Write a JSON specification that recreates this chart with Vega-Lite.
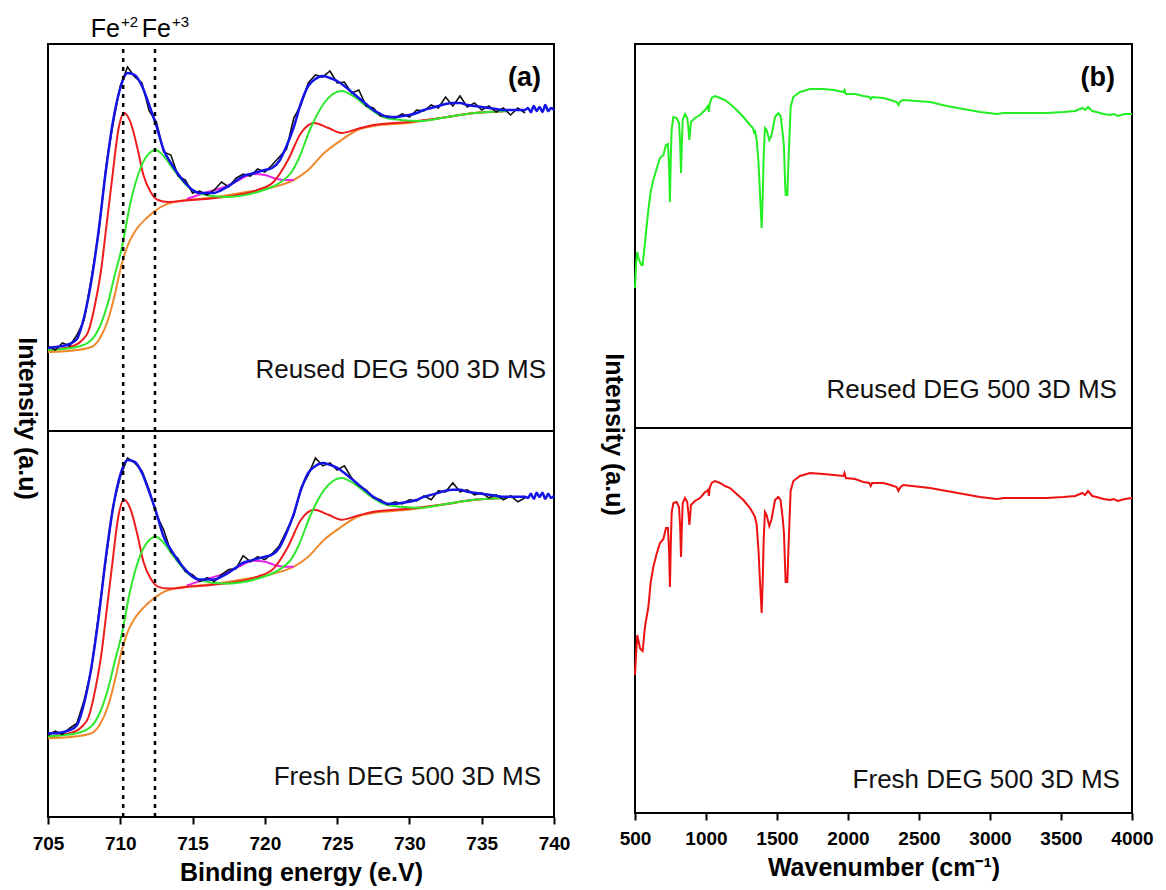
{
  "$schema": "https://vega.github.io/schema/vega-lite/v6.json",
  "background": "white",
  "padding": {"left": 12, "top": 14, "right": 5, "bottom": 5},
  "config": {
    "font": "Liberation Sans",
    "view": {"stroke": "black", "strokeWidth": 2},
    "axis": {"labelFont": "Liberation Sans", "titleFont": "Liberation Sans", "labelFontWeight": "bold", "titleFontWeight": "bold", "labelColor": "black", "titleColor": "black", "tickColor": "black", "grid": false, "labelFontSize": 19, "titleFontSize": 25}
  },
  "datasets": {
    "blue": [
      {"e":705,"r":83,"f":84},{"e":705.5,"r":84,"f":84},{"e":706,"r":85,"f":85},{"e":706.5,"r":87,"f":87},{"e":707,"r":92,"f":92},{"e":707.5,"r":114,"f":114},{"e":708,"r":150,"f":150},{"e":708.5,"r":200,"f":200},{"e":709,"r":260,"f":260},{"e":709.5,"r":310,"f":310},{"e":710,"r":343,"f":343},{"e":710.5,"r":358,"f":358},{"e":711,"r":356,"f":356},{"e":711.5,"r":345,"f":345},{"e":712,"r":326,"f":326},{"e":712.5,"r":305,"f":305},{"e":713,"r":281,"f":281},{"e":713.5,"r":268,"f":268},{"e":714,"r":257,"f":257},{"e":714.5,"r":248,"f":248},{"e":715,"r":241,"f":241},{"e":715.5,"r":238,"f":238},{"e":716,"r":238,"f":238},{"e":716.5,"r":238,"f":238},{"e":717,"r":241,"f":241},{"e":717.5,"r":245,"f":245},{"e":718,"r":250,"f":250},{"e":718.5,"r":255,"f":255},{"e":719,"r":257,"f":257},{"e":719.5,"r":259,"f":259},{"e":720,"r":261,"f":261},{"e":720.5,"r":263,"f":263},{"e":721,"r":270,"f":270},{"e":721.5,"r":285,"f":285},{"e":722,"r":304,"f":304},{"e":722.5,"r":328,"f":328},{"e":723,"r":345,"f":345},{"e":723.5,"r":352,"f":352},{"e":724,"r":355,"f":355},{"e":724.5,"r":353,"f":353},{"e":725,"r":350,"f":350},{"e":725.5,"r":345,"f":345},{"e":726,"r":339,"f":339},{"e":726.5,"r":333,"f":333},{"e":727,"r":327,"f":327},{"e":727.5,"r":321,"f":321},{"e":728,"r":317,"f":317},{"e":728.5,"r":314,"f":314},{"e":729,"r":314,"f":314},{"e":729.5,"r":315,"f":315},{"e":730,"r":316,"f":316},{"e":730.5,"r":318,"f":318},{"e":731,"r":321,"f":321},{"e":731.5,"r":323,"f":323},{"e":732,"r":325,"f":325},{"e":732.5,"r":327,"f":327},{"e":733,"r":328,"f":328},{"e":733.5,"r":328,"f":328},{"e":734,"r":326,"f":326},{"e":734.5,"r":325,"f":325},{"e":735,"r":324,"f":324},{"e":735.5,"r":323,"f":323},{"e":736,"r":322,"f":322},{"e":736.5,"r":321,"f":321},{"e":737,"r":321,"f":321},{"e":737.5,"r":321,"f":321},{"e":738,"r":321,"f":321},{"e":738.2,"r":323,"f":320},{"e":738.4,"r":319,"f":324},{"e":738.6,"r":325,"f":319},{"e":738.8,"r":320,"f":325},{"e":739,"r":324,"f":321},{"e":739.2,"r":319,"f":325},{"e":739.4,"r":326,"f":319},{"e":739.6,"r":320,"f":324},{"e":739.8,"r":323,"f":320},{"e":740,"r":321,"f":322}
    ],
    "black": [
      {"e":705,"r":85,"f":82},{"e":705.5,"r":81,"f":86},{"e":706,"r":88,"f":83},{"e":706.5,"r":85,"f":89},{"e":707,"r":96,"f":94},{"e":707.5,"r":111,"f":117},{"e":708,"r":153,"f":148},{"e":708.5,"r":198,"f":203},{"e":709,"r":263,"f":258},{"e":709.5,"r":308,"f":312},{"e":710,"r":345,"f":341},{"e":710.5,"r":364,"f":360},{"e":711,"r":354,"f":355},{"e":711.5,"r":348,"f":347},{"e":712,"r":320,"f":328},{"e":712.5,"r":309,"f":303},{"e":713,"r":279,"f":288},{"e":713.5,"r":276,"f":266},{"e":714,"r":255,"f":259},{"e":714.5,"r":251,"f":246},{"e":715,"r":238,"f":243},{"e":715.5,"r":240,"f":236},{"e":716,"r":236,"f":240},{"e":716.5,"r":241,"f":236},{"e":717,"r":249,"f":243},{"e":717.5,"r":244,"f":248},{"e":718,"r":253,"f":249},{"e":718.5,"r":257,"f":262},{"e":719,"r":255,"f":256},{"e":719.5,"r":262,"f":261},{"e":720,"r":259,"f":258},{"e":720.5,"r":266,"f":264},{"e":721,"r":274,"f":272},{"e":721.5,"r":282,"f":287},{"e":722,"r":313,"f":302},{"e":722.5,"r":326,"f":330},{"e":723,"r":348,"f":343},{"e":723.5,"r":356,"f":360},{"e":724,"r":354,"f":352},{"e":724.5,"r":360,"f":355},{"e":725,"r":348,"f":348},{"e":725.5,"r":349,"f":352},{"e":726,"r":338,"f":340},{"e":726.5,"r":341,"f":332},{"e":727,"r":325,"f":328},{"e":727.5,"r":323,"f":320},{"e":728,"r":315,"f":318},{"e":728.5,"r":315,"f":313},{"e":729,"r":313,"f":316},{"e":729.5,"r":317,"f":314},{"e":730,"r":314,"f":318},{"e":730.5,"r":321,"f":317},{"e":731,"r":320,"f":322},{"e":731.5,"r":326,"f":318},{"e":732,"r":323,"f":327},{"e":732.5,"r":334,"f":326},{"e":733,"r":325,"f":335},{"e":733.5,"r":335,"f":326},{"e":734,"r":324,"f":328},{"e":734.5,"r":328,"f":323},{"e":735,"r":321,"f":325},{"e":735.5,"r":325,"f":320},{"e":736,"r":319,"f":323},{"e":736.5,"r":323,"f":318},{"e":737,"r":316,"f":322},{"e":737.5,"r":323,"f":316},{"e":738,"r":318,"f":320}
    ],
    "red": [
      {"e":705,"r":81,"f":81},{"e":706.5,"r":84,"f":84},{"e":707.3,"r":90,"f":90},{"e":707.8,"r":100,"f":100},{"e":708.3,"r":130,"f":130},{"e":708.7,"r":164,"f":164},{"e":709,"r":200,"f":200},{"e":709.4,"r":248,"f":248},{"e":709.9,"r":304,"f":304},{"e":710.25,"r":318,"f":318},{"e":710.7,"r":309,"f":309},{"e":711.2,"r":282,"f":282},{"e":711.6,"r":256,"f":256},{"e":712.1,"r":239,"f":239},{"e":712.6,"r":231,"f":231},{"e":713.3,"r":229,"f":229},{"e":714.9,"r":231,"f":231},{"e":717.2,"r":234,"f":234},{"e":719.5,"r":241,"f":241},{"e":720.6,"r":249,"f":249},{"e":721.6,"r":271,"f":271},{"e":722.5,"r":298,"f":298},{"e":723.4,"r":308,"f":308},{"e":724.4,"r":303,"f":303},{"e":725.3,"r":298,"f":298},{"e":726.4,"r":302,"f":302},{"e":727.5,"r":306,"f":306},{"e":729.9,"r":309,"f":309},{"e":732.2,"r":313,"f":313},{"e":734.5,"r":318,"f":318},{"e":736.8,"r":320,"f":320}
    ],
    "green": [
      {"e":705,"r":81,"f":81},{"e":707,"r":84,"f":84},{"e":708,"r":91,"f":91},{"e":708.6,"r":105,"f":105},{"e":709.2,"r":131,"f":131},{"e":709.6,"r":155,"f":155},{"e":710.1,"r":183,"f":183},{"e":710.7,"r":228,"f":228},{"e":711.4,"r":263,"f":263},{"e":712.1,"r":279,"f":279},{"e":712.45,"r":281,"f":281},{"e":713,"r":275,"f":275},{"e":713.7,"r":261,"f":261},{"e":714.7,"r":244,"f":244},{"e":715.6,"r":237,"f":237},{"e":717.2,"r":234,"f":234},{"e":719.5,"r":239,"f":239},{"e":721.1,"r":249,"f":249},{"e":721.8,"r":258,"f":258},{"e":722.3,"r":271,"f":271},{"e":723.2,"r":304,"f":304},{"e":724.1,"r":328,"f":328},{"e":725.3,"r":340,"f":340},{"e":726.2,"r":334,"f":334},{"e":727.1,"r":324,"f":324},{"e":728.2,"r":314,"f":314},{"e":729.4,"r":311,"f":311},{"e":730.8,"r":310,"f":310},{"e":732.2,"r":313,"f":313},{"e":734.5,"r":318,"f":318},{"e":736.8,"r":320,"f":320}
    ],
    "orange": [
      {"e":705,"r":79,"f":79},{"e":707,"r":81,"f":81},{"e":708,"r":84,"f":84},{"e":708.6,"r":93,"f":93},{"e":709.15,"r":111,"f":111},{"e":709.6,"r":135,"f":135},{"e":710.05,"r":164,"f":164},{"e":710.5,"r":185,"f":185},{"e":710.95,"r":198,"f":198},{"e":711.9,"r":214,"f":214},{"e":712.8,"r":224,"f":224},{"e":713.7,"r":229,"f":229},{"e":716.1,"r":233,"f":233},{"e":718.35,"r":238,"f":238},{"e":720.6,"r":244,"f":244},{"e":722,"r":251,"f":251},{"e":723,"r":261,"f":261},{"e":724.1,"r":278,"f":278},{"e":725.3,"r":291,"f":291},{"e":726.4,"r":301,"f":301},{"e":727.55,"r":305,"f":305},{"e":729.9,"r":308,"f":308},{"e":732.2,"r":313,"f":313},{"e":734.5,"r":318,"f":318},{"e":736.8,"r":320,"f":320}
    ],
    "magenta": [
      {"e":714.6,"r":232,"f":232},{"e":715.4,"r":236,"f":236},{"e":716.3,"r":240,"f":240},{"e":717.2,"r":244,"f":244},{"e":718.2,"r":251,"f":251},{"e":719.2,"r":257,"f":257},{"e":720,"r":256,"f":256},{"e":720.6,"r":253,"f":253},{"e":721.3,"r":251,"f":251},{"e":722,"r":251,"f":251}
    ],
    "ftir": [
      {"w":500,"r":140,"f":138},{"w":508,"r":165,"f":160},{"w":516,"r":176,"f":178},{"w":525,"r":170,"f":172},{"w":535,"r":166,"f":165},{"w":545,"r":163,"f":163},{"w":554,"r":163,"f":162},{"w":570,"r":185,"f":186},{"w":594,"r":218,"f":206},{"w":610,"r":236,"f":230},{"w":629,"r":248,"f":246},{"w":650,"r":258,"f":258},{"w":676,"r":270,"f":270},{"w":700,"r":273,"f":274},{"w":718,"r":283,"f":285},{"w":732,"r":284,"f":285},{"w":740,"r":262,"f":262},{"w":746,"r":226,"f":226},{"w":752,"r":270,"f":268},{"w":758,"r":298,"f":300},{"w":770,"r":311,"f":310},{"w":793,"r":310,"f":311},{"w":810,"r":305,"f":306},{"w":818,"r":285,"f":286},{"w":824,"r":255,"f":256},{"w":830,"r":285,"f":286},{"w":836,"r":308,"f":310},{"w":852,"r":314,"f":315},{"w":868,"r":310,"f":311},{"w":876,"r":300,"f":300},{"w":883,"r":288,"f":288},{"w":889,"r":298,"f":298},{"w":894,"r":306,"f":308},{"w":922,"r":310,"f":312},{"w":958,"r":313,"f":315},{"w":993,"r":318,"f":321},{"w":1010,"r":321,"f":322},{"w":1016,"r":323,"f":324},{"w":1020,"r":316,"f":317},{"w":1026,"r":324,"f":325},{"w":1040,"r":330,"f":330},{"w":1063,"r":332,"f":332},{"w":1099,"r":330,"f":330},{"w":1134,"r":328,"f":327},{"w":1169,"r":324,"f":325},{"w":1216,"r":318,"f":319},{"w":1263,"r":311,"f":313},{"w":1310,"r":303,"f":305},{"w":1330,"r":300,"f":300},{"w":1338,"r":296,"f":298},{"w":1345,"r":297,"f":296},{"w":1357,"r":288,"f":288},{"w":1370,"r":265,"f":262},{"w":1380,"r":235,"f":232},{"w":1392,"r":200,"f":200},{"w":1400,"r":235,"f":235},{"w":1406,"r":270,"f":272},{"w":1415,"r":300,"f":301},{"w":1427,"r":298,"f":298},{"w":1446,"r":288,"f":287},{"w":1462,"r":293,"f":294},{"w":1486,"r":311,"f":313},{"w":1509,"r":315,"f":316},{"w":1525,"r":312,"f":313},{"w":1540,"r":295,"f":295},{"w":1549,"r":281,"f":280},{"w":1556,"r":250,"f":250},{"w":1561,"r":233,"f":231},{"w":1573,"r":233,"f":231},{"w":1578,"r":255,"f":254},{"w":1585,"r":281,"f":281},{"w":1596,"r":321,"f":322},{"w":1615,"r":331,"f":332},{"w":1662,"r":336,"f":337},{"w":1732,"r":339,"f":340},{"w":1826,"r":339,"f":339},{"w":1900,"r":338,"f":338},{"w":1967,"r":336,"f":337},{"w":1975,"r":338,"f":340},{"w":1985,"r":334,"f":335},{"w":2050,"r":334,"f":334},{"w":2108,"r":332,"f":331},{"w":2150,"r":331,"f":330},{"w":2160,"r":329,"f":327},{"w":2170,"r":331,"f":330},{"w":2249,"r":330,"f":330},{"w":2300,"r":328,"f":328},{"w":2343,"r":326,"f":326},{"w":2355,"r":323,"f":322},{"w":2370,"r":327,"f":326},{"w":2390,"r":328,"f":328},{"w":2578,"r":326,"f":325},{"w":2695,"r":322,"f":322},{"w":2812,"r":319,"f":319},{"w":2930,"r":316,"f":316},{"w":3047,"r":314,"f":314},{"w":3100,"r":315,"f":315},{"w":3164,"r":315,"f":315},{"w":3399,"r":315,"f":315},{"w":3516,"r":316,"f":316},{"w":3600,"r":317,"f":317},{"w":3650,"r":320,"f":320},{"w":3670,"r":318,"f":318},{"w":3690,"r":321,"f":322},{"w":3720,"r":317,"f":317},{"w":3750,"r":316,"f":316},{"w":3800,"r":314,"f":314},{"w":3845,"r":313,"f":313},{"w":3870,"r":314,"f":314},{"w":3900,"r":312,"f":312},{"w":3950,"r":314,"f":314},{"w":4000,"r":314,"f":315}
    ]
  },
  "spacing": 28,
  "resolve": {"scale": {"x": "independent", "y": "independent"}},
  "hconcat": [
    {
      "spacing": 0,
      "bounds": "flush",
      "resolve": {"scale": {"x": "independent", "y": "independent"}},
      "vconcat": [
        {
          "width": 506, "height": 387,
          "layer": [
            {"data": {"name": "orange"}, "mark": {"type": "line", "color": "#f0892b", "strokeWidth": 2, "interpolate": "monotone"},
             "encoding": {
               "x": {"field": "e", "type": "quantitative", "scale": {"domain": [705, 740], "nice": false, "zero": false}, "axis": null},
               "y": {"field": "r", "type": "quantitative", "scale": {"domain": [0, 387], "nice": false, "zero": false}, "axis": {"title": "Intensity (a.u)", "labels": false, "ticks": false, "domain": false, "grid": false, "titleAngle": 90, "titleX": -22, "titleY": 374, "titleAlign": "center", "titleBaseline": "middle"}}
             }},
            {"data": {"name": "magenta"}, "mark": {"type": "line", "color": "#e822e8", "strokeWidth": 2, "interpolate": "monotone"}, "encoding": {"x": {"field": "e", "type": "quantitative"}, "y": {"field": "r", "type": "quantitative"}}},
            {"data": {"name": "red"}, "mark": {"type": "line", "color": "#ee1c1c", "strokeWidth": 2, "interpolate": "monotone"}, "encoding": {"x": {"field": "e", "type": "quantitative"}, "y": {"field": "r", "type": "quantitative"}}},
            {"data": {"name": "green"}, "mark": {"type": "line", "color": "#2ee82e", "strokeWidth": 2, "interpolate": "monotone"}, "encoding": {"x": {"field": "e", "type": "quantitative"}, "y": {"field": "r", "type": "quantitative"}}},
            {"data": {"name": "black"}, "mark": {"type": "line", "color": "#111111", "strokeWidth": 1.6}, "encoding": {"x": {"field": "e", "type": "quantitative"}, "y": {"field": "r", "type": "quantitative"}}},
            {"data": {"name": "blue"}, "mark": {"type": "line", "color": "#1414e6", "strokeWidth": 2.5, "interpolate": "monotone"}, "encoding": {"x": {"field": "e", "type": "quantitative"}, "y": {"field": "r", "type": "quantitative"}}},
            {"data": {"values": [{"ion": "Fe2+"}]}, "mark": {"type": "rule", "color": "black", "strokeWidth": 2.5, "strokeDash": [4, 5]}, "encoding": {"x": {"datum": 710.2}, "y": {"datum": 0}, "y2": {"datum": 387}}},
            {"data": {"values": [{"ion": "Fe3+"}]}, "mark": {"type": "rule", "color": "black", "strokeWidth": 2.5, "strokeDash": [4, 5]}, "encoding": {"x": {"datum": 712.4}, "y": {"datum": 0}, "y2": {"datum": 387}}},
            {"data": {"values": [{"t": "Fe", "n": 1}]}, "mark": {"type": "text", "align": "right", "baseline": "alphabetic", "fontSize": 25, "color": "black"}, "encoding": {"text": {"field": "t"}, "x": {"datum": 709.98}, "y": {"datum": 394}}},
            {"data": {"values": [{"t": "+2"}]}, "mark": {"type": "text", "align": "left", "baseline": "alphabetic", "fontSize": 15, "color": "black"}, "encoding": {"text": {"field": "t"}, "x": {"datum": 710.05}, "y": {"datum": 404}}},
            {"data": {"values": [{"t": "Fe", "n": 2}]}, "mark": {"type": "text", "align": "right", "baseline": "alphabetic", "fontSize": 25, "color": "black"}, "encoding": {"text": {"field": "t"}, "x": {"datum": 713.51}, "y": {"datum": 394}}},
            {"data": {"values": [{"t": "+3"}]}, "mark": {"type": "text", "align": "left", "baseline": "alphabetic", "fontSize": 15, "color": "black"}, "encoding": {"text": {"field": "t"}, "x": {"datum": 713.58}, "y": {"datum": 404}}},
            {"data": {"values": [{"t": "(a)"}]}, "mark": {"type": "text", "align": "right", "baseline": "alphabetic", "fontSize": 27, "fontWeight": "bold", "color": "black"}, "encoding": {"text": {"field": "t"}, "x": {"datum": 739.1}, "y": {"datum": 345}}},
            {"data": {"values": [{"t": "Reused DEG 500 3D MS", "p": "a"}]}, "mark": {"type": "text", "align": "right", "baseline": "alphabetic", "fontSize": 26, "color": "#111111"}, "encoding": {"text": {"field": "t"}, "x": {"datum": 739.45}, "y": {"datum": 53}}}
          ]
        },
        {
          "width": 506, "height": 386,
          "layer": [
            {"data": {"name": "orange"}, "mark": {"type": "line", "color": "#f0892b", "strokeWidth": 2, "interpolate": "monotone"},
             "encoding": {
               "x": {"field": "e", "type": "quantitative", "scale": {"domain": [705, 740], "nice": false, "zero": false}, "axis": {"title": "Binding energy (e.V)", "values": [705, 710, 715, 720, 725, 730, 735, 740], "format": "d", "domain": false, "grid": false, "tickSize": 7, "tickWidth": 2, "labelPadding": 10, "labelFlush": false, "labelOverlap": false, "titlePadding": 7}},
               "y": {"field": "f", "type": "quantitative", "scale": {"domain": [0, 387], "nice": false, "zero": false}, "axis": null}
             }},
            {"data": {"name": "magenta"}, "mark": {"type": "line", "color": "#e822e8", "strokeWidth": 2, "interpolate": "monotone"}, "encoding": {"x": {"field": "e", "type": "quantitative"}, "y": {"field": "f", "type": "quantitative"}}},
            {"data": {"name": "red"}, "mark": {"type": "line", "color": "#ee1c1c", "strokeWidth": 2, "interpolate": "monotone"}, "encoding": {"x": {"field": "e", "type": "quantitative"}, "y": {"field": "f", "type": "quantitative"}}},
            {"data": {"name": "green"}, "mark": {"type": "line", "color": "#2ee82e", "strokeWidth": 2, "interpolate": "monotone"}, "encoding": {"x": {"field": "e", "type": "quantitative"}, "y": {"field": "f", "type": "quantitative"}}},
            {"data": {"name": "black"}, "mark": {"type": "line", "color": "#111111", "strokeWidth": 1.6}, "encoding": {"x": {"field": "e", "type": "quantitative"}, "y": {"field": "f", "type": "quantitative"}}},
            {"data": {"name": "blue"}, "mark": {"type": "line", "color": "#1414e6", "strokeWidth": 2.5, "interpolate": "monotone"}, "encoding": {"x": {"field": "e", "type": "quantitative"}, "y": {"field": "f", "type": "quantitative"}}},
            {"data": {"values": [{"ion": "Fe2+", "p": "b"}]}, "mark": {"type": "rule", "color": "black", "strokeWidth": 2.5, "strokeDash": [4, 5]}, "encoding": {"x": {"datum": 710.2}, "y": {"datum": 0}, "y2": {"datum": 387}}},
            {"data": {"values": [{"ion": "Fe3+", "p": "b"}]}, "mark": {"type": "rule", "color": "black", "strokeWidth": 2.5, "strokeDash": [4, 5]}, "encoding": {"x": {"datum": 712.4}, "y": {"datum": 0}, "y2": {"datum": 387}}},
            {"data": {"values": [{"t": "Fresh DEG 500 3D MS", "p": "a"}]}, "mark": {"type": "text", "align": "right", "baseline": "alphabetic", "fontSize": 26, "color": "#111111"}, "encoding": {"text": {"field": "t"}, "x": {"datum": 739.1}, "y": {"datum": 32}}}
          ]
        }
      ]
    },
    {
      "spacing": 0,
      "bounds": "flush",
      "resolve": {"scale": {"x": "independent", "y": "independent"}},
      "vconcat": [
        {
          "width": 497, "height": 384,
          "layer": [
            {"data": {"name": "ftir"}, "mark": {"type": "line", "color": "#22ee22", "strokeWidth": 2},
             "encoding": {
               "x": {"field": "w", "type": "quantitative", "scale": {"domain": [500, 4000], "nice": false, "zero": false}, "axis": null},
               "y": {"field": "r", "type": "quantitative", "scale": {"domain": [0, 384], "nice": false, "zero": false}, "axis": {"title": "Intensity (a.u)", "labels": false, "ticks": false, "domain": false, "grid": false, "titleAngle": 90, "titleX": -22, "titleY": 390, "titleAlign": "center", "titleBaseline": "middle"}}
             }},
            {"data": {"values": [{"t": "(b)"}]}, "mark": {"type": "text", "align": "right", "baseline": "alphabetic", "fontSize": 27, "fontWeight": "bold", "color": "black"}, "encoding": {"text": {"field": "t"}, "x": {"datum": 3880}, "y": {"datum": 342}}},
            {"data": {"values": [{"t": "Reused DEG 500 3D MS", "p": "b"}]}, "mark": {"type": "text", "align": "right", "baseline": "alphabetic", "fontSize": 26, "color": "#111111"}, "encoding": {"text": {"field": "t"}, "x": {"datum": 3894}, "y": {"datum": 30}}}
          ]
        },
        {
          "width": 497, "height": 385,
          "layer": [
            {"data": {"name": "ftir"}, "mark": {"type": "line", "color": "#ee1111", "strokeWidth": 2},
             "encoding": {
               "x": {"field": "w", "type": "quantitative", "scale": {"domain": [500, 4000], "nice": false, "zero": false}, "axis": {"title": "Wavenumber (cm⁻¹)", "values": [500, 1000, 1500, 2000, 2500, 3000, 3500, 4000], "format": "d", "domain": false, "grid": false, "tickSize": 7, "tickWidth": 2, "labelPadding": 9, "labelFlush": false, "labelOverlap": false, "titlePadding": 7}},
               "y": {"field": "f", "type": "quantitative", "scale": {"domain": [0, 385], "nice": false, "zero": false}, "axis": null}
             }},
            {"data": {"values": [{"t": "Fresh DEG 500 3D MS", "p": "b"}]}, "mark": {"type": "text", "align": "right", "baseline": "alphabetic", "fontSize": 26, "color": "#111111"}, "encoding": {"text": {"field": "t"}, "x": {"datum": 3915}, "y": {"datum": 25}}}
          ]
        }
      ]
    }
  ]
}
